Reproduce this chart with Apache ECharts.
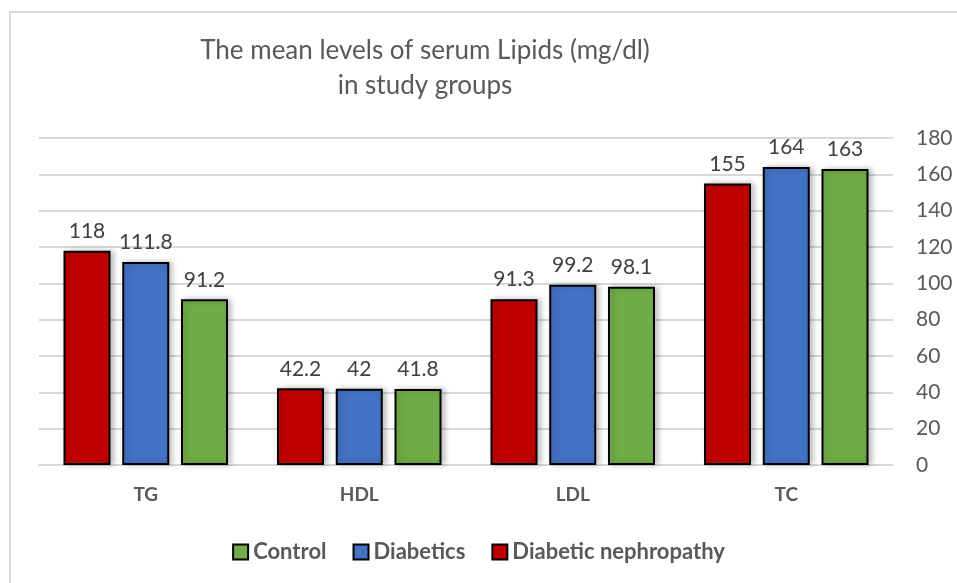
<!DOCTYPE html>
<html>
<head>
  <meta charset="UTF-8">
  <title>serum lipids</title>
  <style>
  html, body {
    margin: 0;
    padding: 0;
    background: #fff;
  }
  #frame {
    position: absolute;
    left: 9px;
    top: 11px;
    width: 960px;
    height: 590px;
    border-left: 2px solid #d9d9d9;
    border-top: 2px solid #d9d9d9;
  }
  #chart {
    position: absolute;
    left: 0;
    top: 0;
    width: 957px;
    height: 583px;
  }
  </style>
  <script src="https://cdn.jsdelivr.net/npm/echarts@6/dist/echarts.min.js"></script>
</head>
<body>
  <div id="frame"></div>
  <div id="chart"></div>
  <script type="text/javascript">
  var categories = ['TG', 'HDL', 'LDL', 'TC'];
  var nephropathy = [118, 42.2, 91.3, 155];
  var diabetics = [111.8, 42, 99.2, 164];
  var control = [91.2, 41.8, 98.1, 163];
  var yTicks = { min: 0, max: 180, interval: 20 };

  var font = 'Lato, "Open Sans", sans-serif';

  function barSeries(name, data, color) {
    return {
      name: name,
      type: 'bar',
      data: data,
      barWidth: 47,
      barGap: '25%',
      itemStyle: {
        color: color,
        borderColor: '#000',
        borderWidth: 2,
        shadowColor: 'rgba(0,0,0,0.25)',
        shadowBlur: 6,
        shadowOffsetX: 3
      },
      label: {
        show: true,
        position: 'top',
        distance: 9,
        color: '#404040',
        fontFamily: font,
        fontSize: 21
      }
    };
  }

  var myChart = echarts.init(document.getElementById('chart'));

  var option = {
    animation: false,
    title: {
      text: 'The mean levels of serum Lipids (mg/dl)\nin study groups',
      left: 420,
      textAlign: 'center',
      top: 28,
      textStyle: {
        fontFamily: font,
        fontWeight: 'normal',
        fontSize: 26,
        lineHeight: 35,
        color: '#595959'
      }
    },
    legend: {
      data: ['Control', 'Diabetics', 'Diabetic nephropathy'],
      left: 'center',
      top: 536,
      icon: 'rect',
      itemWidth: 15,
      itemHeight: 15,
      itemGap: 26,
      textStyle: {
        fontFamily: font,
        fontWeight: 'bold',
        fontSize: 22,
        color: '#595959'
      }
    },
    grid: {
      left: 39,
      right: 64,
      top: 138,
      bottom: 118
    },
    xAxis: {
      type: 'category',
      data: categories,
      axisTick: { show: false },
      axisLine: { lineStyle: { color: '#d9d9d9', width: 2 } },
      axisLabel: {
        margin: 20,
        fontFamily: font,
        fontWeight: 'bold',
        fontSize: 19,
        color: '#595959'
      }
    },
    yAxis: {
      type: 'value',
      position: 'right',
      min: yTicks.min,
      max: yTicks.max,
      interval: yTicks.interval,
      axisLine: { show: false },
      axisTick: { show: false },
      splitLine: { lineStyle: { color: '#d9d9d9', width: 2 } },
      axisLabel: {
        margin: 23,
        fontFamily: font,
        fontSize: 21,
        color: '#595959'
      }
    },
    series: [
      barSeries('Diabetic nephropathy', nephropathy, '#c00000'),
      barSeries('Diabetics', diabetics, '#4472c4'),
      barSeries('Control', control, '#70ad47')
    ]
  };
  myChart.setOption(option);
  </script>
</body>
</html>
